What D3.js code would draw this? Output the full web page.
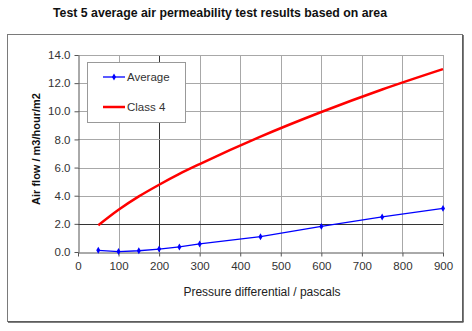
<!DOCTYPE html>
<html><head><meta charset="utf-8">
<script src="https://cdn.jsdelivr.net/npm/d3@7"></script>
<style>body{margin:0;background:#fff}svg{display:block;font-family:Arial,"Liberation Sans",sans-serif}</style>
</head><body><svg id="c" width="472" height="331"></svg>
<script>
const pressures = [50,100,150,200,250,300,450,600,750,900];
const averageValues = [0.12,0.03,0.09,0.21,0.36,0.57,1.09,1.82,2.49,3.1];
const class4Values = [1.9,3.0,3.95,4.78,5.55,6.25,8.2,9.95,11.55,13.0];
const xTicks = [0,100,200,300,400,500,600,700,800,900];
const yTicks = [0,2,4,6,8,10,12,14];
const seriesNames = ["Average","Class 4"];

const svg = d3.select("#c");
const m = {l:78, r:443, t:55, b:252};
const x = d3.scaleLinear().domain([0,900]).range([m.l,m.r]);
const y = d3.scaleLinear().domain([0,14]).range([m.b,m.t]);

// outer frame
svg.append("rect").attr("x",7.5).attr("y",34.5).attr("width",455).attr("height",287)
  .attr("fill","#fff").attr("stroke","#7a7a7a").attr("stroke-width",1);
svg.append("line").attr("x1",463).attr("x2",463).attr("y1",35).attr("y2",322).attr("stroke","#555").attr("stroke-width",1.5);
svg.append("line").attr("x1",8).attr("x2",463.5).attr("y1",322).attr("y2",322).attr("stroke","#555").attr("stroke-width",1.5);

// title
svg.append("text").attr("x",220).attr("y",17).attr("text-anchor","middle")
  .attr("font-size",12.3).attr("font-weight","bold").attr("fill","#111")
  .text("Test 5 average air permeability test results based on area");

// grid
const g = svg.append("g");
xTicks.filter(d=>d>0).forEach(d=>{
  g.append("line").attr("x1",Math.round(x(d))+0.5).attr("x2",Math.round(x(d))+0.5)
   .attr("y1",m.t).attr("y2",m.b).attr("stroke",d===200?"#333":"#a8a8a8").attr("stroke-width",1);
});
yTicks.filter(d=>d>0).forEach(d=>{
  g.append("line").attr("x1",m.l).attr("x2",m.r).attr("y1",Math.round(y(d))+0.5).attr("y2",Math.round(y(d))+0.5)
   .attr("stroke",d===2?"#333":"#a8a8a8").attr("stroke-width",1);
});

// axes
const xa = svg.append("g").attr("transform",`translate(0,${m.b+0.5})`)
  .call(d3.axisBottom(x).tickValues(xTicks).tickSize(4).tickSizeOuter(0).tickFormat(d3.format("d")));
const ya = svg.append("g").attr("transform",`translate(${m.l+0.5},0)`)
  .call(d3.axisLeft(y).tickValues(yTicks).tickSize(4).tickSizeOuter(0).tickFormat(d3.format(".1f")));
[xa,ya].forEach(a=>{
  a.select(".domain").attr("stroke","#555");
  a.selectAll(".tick line").attr("stroke","#555");
  a.selectAll(".tick text").attr("font-size",11.5).attr("fill","#333").attr("font-family","Arial, 'Liberation Sans', sans-serif");
});
xa.selectAll(".tick text").attr("dy","0.9em");
ya.selectAll(".tick text").attr("x",-8);

// axis titles
svg.append("text").attr("x",262).attr("y",296).attr("text-anchor","middle")
  .attr("font-size",12).attr("fill","#222").text("Pressure differential / pascals");
svg.append("text").attr("transform","translate(40,149) rotate(-90)").attr("text-anchor","middle")
  .attr("font-size",11).attr("font-weight","bold").attr("fill","#111").text("Air flow / m3/hour/m2");

// series
const avg = pressures.map((p,i)=>[p,averageValues[i]]);
const c4 = pressures.map((p,i)=>[p,class4Values[i]]);
svg.append("path").datum(c4).attr("d",d3.line().x(d=>x(d[0])).y(d=>y(d[1])).curve(d3.curveMonotoneX))
  .attr("fill","none").attr("stroke","#ff0000").attr("stroke-width",2.5);
svg.append("path").datum(avg).attr("d",d3.line().x(d=>x(d[0])).y(d=>y(d[1])))
  .attr("fill","none").attr("stroke","#0000ff").attr("stroke-width",1.3);
const diamond = d3.symbol().type(d3.symbolDiamond).size(14);
svg.selectAll(".mk").data(avg).join("path").attr("class","mk")
  .attr("transform",d=>`translate(${x(d[0])},${y(d[1])})`).attr("d",diamond).attr("fill","#0000ff");

// legend
const lg = svg.append("g");
lg.append("rect").attr("x",87.5).attr("y",62.5).attr("width",98).attr("height",60)
  .attr("fill","#fff").attr("stroke","#999");
lg.append("line").attr("x1",103).attr("x2",125).attr("y1",77).attr("y2",77).attr("stroke","#0000ff").attr("stroke-width",1.3);
lg.append("path").attr("transform","translate(114,77)").attr("d",diamond).attr("fill","#0000ff");
lg.append("text").attr("x",127).attr("y",81).attr("font-size",11.5).attr("fill","#333").text(seriesNames[0]);
lg.append("line").attr("x1",103).attr("x2",125).attr("y1",107).attr("y2",107).attr("stroke","#ff0000").attr("stroke-width",2.5);
lg.append("text").attr("x",127).attr("y",111).attr("font-size",11.5).attr("fill","#333").text(seriesNames[1]);
</script></body></html>
